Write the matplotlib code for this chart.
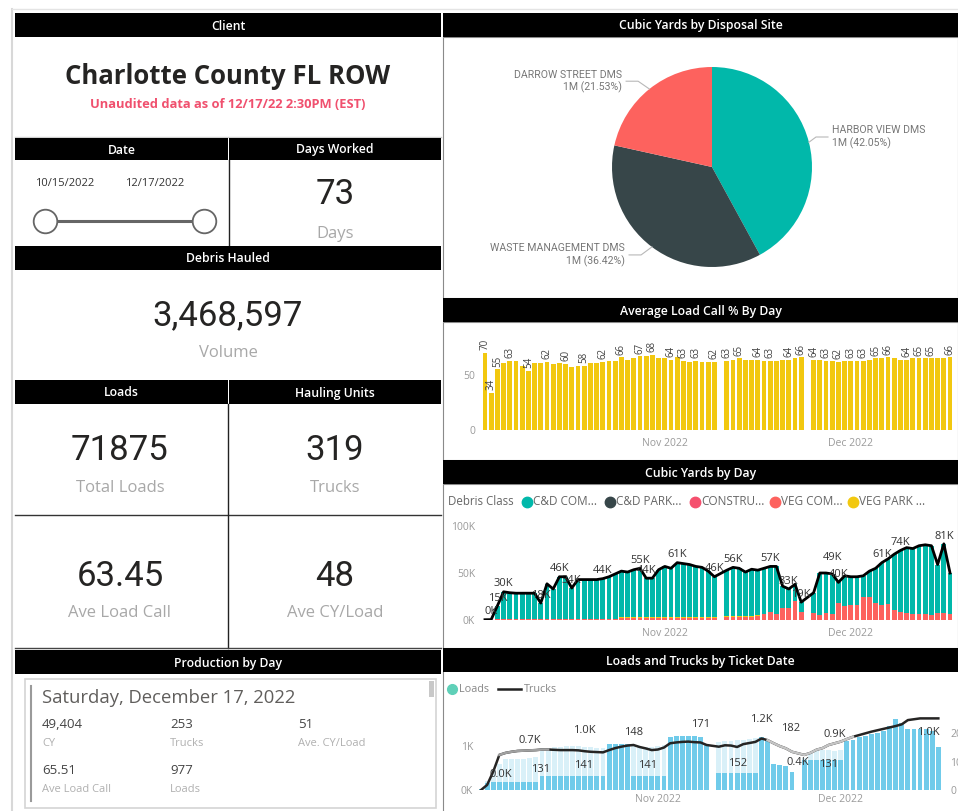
import matplotlib.pyplot as plt
import matplotlib.dates as mdates
from matplotlib.patches import Rectangle
from matplotlib.lines import Line2D
import numpy as np
import pandas as pd

plt.rcParams['font.family'] = ['Open Sans', 'DejaVu Sans']

W, H = 958, 811

# ---------------- data ----------------
client = 'Charlotte County FL ROW'
subtitle = 'Unaudited data as of 12/17/22 2:30PM (EST)'
date_from, date_to = '10/15/2022', '12/17/2022'
days_worked = '73'
debris_volume = '3,468,597'
total_loads = '71875'
trucks_total = '319'
ave_load_call = '63.45'
ave_cy_load = '48'

prod_date = 'Saturday, December 17, 2022'
prod_values = ['49,404', '253', '51', '65.51', '977']
prod_names = ['CY', 'Trucks', 'Ave. CY/Load', 'Ave Load Call', 'Loads']

sites = ['HARBOR VIEW DMS', 'WASTE MANAGEMENT DMS', 'DARROW STREET DMS']
site_share = [42.05, 36.42, 21.53]
site_colors = ['#01B8AA', '#374649', '#FD625E']

all_days = pd.date_range('2022-10-03', '2022-12-17')
days = all_days.drop(pd.to_datetime(['2022-11-10', '2022-11-24']))

avg_call = [70, 34, 55, 61, 63, 63, 58, 54, 61, 61, 62, 60, 61, 60, 57, 58, 58, 61, 61, 62,
            63, 63, 66, 64, 65, 67, 67, 68, 65, 65, 64, 66, 63, 62, 63, 62, 62, 62,
            63, 64, 65, 64, 64, 64, 63, 63, 63, 64, 64, 65, 66,
            64, 64, 63, 63, 62, 63, 63, 63, 63, 64, 65, 65, 66, 65, 64, 64, 65, 65, 65, 65, 65, 65, 66]
avg_lab = [0, 1, 2, 4, 7, 10, 13, 16, 19, 22, 25, 27, 30, 32, 34, 37,
           38, 40, 43, 45, 48, 50, 51, 53, 55, 57, 59, 61, 63, 66, 68, 70, 73]

# cubic yards by day (K)
cy_total = [0.3, 0.4, 15, 30, 29, 28.5, 28.5, 28.5, 28.5, 18, 38.5, 33, 46, 46, 34, 43, 43, 43, 43, 44,
            46, 49, 52, 51, 53.5, 55, 44.5, 44.5, 53.5, 57, 55, 61, 60, 59, 57, 56, 52, 46,
            53, 56, 55, 51, 54, 53, 55, 57, 57, 36, 33, 38, 19,
            29, 50, 50, 49, 40, 47, 46, 46, 47, 52, 55, 61, 65, 70, 74, 77, 76, 79, 80, 79, 59, 81, 50]
cd_com = [0.3, 0.4, 14, 29, 28, 27.5, 27.5, 27.5, 27.5, 17, 37.5, 32, 45, 45, 33, 42, 42, 42, 42, 43,
          45, 48, 48.5, 47.5, 50, 51.5, 41, 41, 50, 53.5, 51.5, 57.5, 56.5, 55.5, 53.5, 52.5, 48.5, 42.5,
          49, 52, 51, 47, 50, 48, 49, 48, 51, 23, 20, 18, 10,
          22, 45, 43, 43, 22, 32, 30, 30, 23, 28, 37, 45, 48, 59, 65, 70, 70, 73, 74, 74, 52, 74, 44]
veg_com = [0, 0, 1, 1, 1, 1, 1, 1, 1, 1, 1, 1, 1, 1, 1, 1, 1, 1, 1, 1,
           1, 1, 2, 2, 2, 2, 2, 2, 2, 2, 2, 2, 2, 2, 2, 2, 2, 2,
           3, 3, 3, 3, 3, 4, 6, 9, 6, 13, 13, 20, 9,
           7, 5, 7, 6, 18, 15, 16, 16, 24, 24, 18, 16, 17, 11, 9, 7, 6, 6, 6, 5, 7, 7, 6]
veg_park = [0, 0, 0, 0, 0, 0, 0, 0, 0, 0, 0, 0, 0, 0, 0, 0, 0, 0, 0, 0,
            0, 0, 1.5, 1.5, 1.5, 1.5, 1.5, 1.5, 1.5, 1.5, 1.5, 1.5, 1.5, 1.5, 1.5, 1.5, 1.5, 1.5,
            1, 1, 1, 1, 1, 1, 0, 0, 0, 0, 0, 0, 0,
            0, 0, 0, 0, 0, 0, 0, 0, 0, 0, 0, 0, 0, 0, 0, 0, 0, 0, 0, 0, 0, 0, 0]
cy_lab = [1, 2, 3, 9, 12, 14, 19, 25, 26, 31, 37, 39, 45, 48, 50, 54, 55, 62, 65, 72]
cy_lab_dy = [2.5, 2.5, 3, 2.5, 2.5, 2.5, 2.5, 2.5, 2.5, 2.5, 2.5, 2.5, 2.5, 2.5, 2.5, 12, 2.5, 2.5, 2.5, 2.5]
debris_classes = ['C&D COM...', 'C&D PARK...', 'CONSTRU...', 'VEG COM...', 'VEG PARK ...']
class_colors = ['#01B8AA', '#374649', '#F5506E', '#FD625E', '#F2C80F']

# loads (K) and trucks by ticket date
loads_all = [0.02, 0.2, 0.45, 0.6, 0.7, 0.7, 0.7, 0.7, 0.72, 0.75, 0.95, 0.95, 0.97, 0.98, 1.0, 1.0, 1.0,
             0.98, 0.97, 0.96, 0.95, 1.04, 1.05, 1.04, 1.04, 1.0, 0.98, 0.97, 0.98, 1.0, 1.02,
             1.2, 1.23, 1.24, 1.23, 1.22, 1.2, 1.04,
             1.1, 1.12, 1.12, 1.14, 1.15, 1.16, 1.18, 1.2, 1.15, 0.6, 0.58, 0.55, 0.42,
             0.72, 0.85, 0.9, 0.9, 0.9, 0.88, 0.9, 1.12, 1.15, 1.2, 1.23, 1.27, 1.3, 1.35, 1.45,
             1.62, 1.52, 1.4, 1.38, 1.38, 1.38, 1.35, 0.98]
loads_sel = [0.02, 0.15, 0.19, 0.19, 0.19, 0.19, 0.19, 0.19, 0.19, 0.19, 0.31, 0.31, 0.31, 0.31, 0.31,
             0.31, 0.31, 0.31, 0.31, 0.31, 0.31, 1.04, 1.05, 1.04, 1.04, 0.31, 0.31, 0.31, 0.31, 0.31, 0.31,
             1.2, 1.23, 1.24, 1.23, 1.22, 1.2, 1.04,
             0.38, 0.38, 0.38, 0.38, 0.38, 0.38, 0.38, 1.2, 1.15, 0.6, 0.58, 0.55, 0.42,
             0.69, 0.69, 0.69, 0.69, 0.69, 0.69, 0.69, 1.12, 1.15, 1.2, 1.23, 1.27, 1.3, 1.35, 1.45,
             1.62, 1.52, 1.4, 1.38, 1.38, 1.38, 1.35, 0.98]
trucks = [0, 18, 65, 124, 131, 135, 138, 139, 140, 141, 143, 143, 142, 141, 141, 141, 140, 137, 135, 134,
          133, 141, 148, 153, 157, 159, 152, 147, 141, 143, 150, 165, 168, 170, 171, 169, 168, 159,
          153, 158, 157, 152, 162, 166, 170, 182, 176, 165, 155, 147, 135,
          124, 131, 142, 148, 159, 165, 171, 180, 188, 194, 200, 206, 211, 216, 221, 226, 232, 247,
          250, 253, 253, 253, 253]
truck_lab = [4, 13, 22, 28, 34, 41, 45, 52]
truck_lab_off = [(25, -12), (17, -11), (13, 11), (-3, -11), (9, 12), (0, -12), (21, 7), (13, -8)]
load_lab = [0, 8, 16, 45, 50, 54, 73]
load_lab_off = [(14, 11), (0, 7), (4, 14), (0, 14), (4, -8), (9, 10), (-7, -10)]

months = pd.to_datetime(['2022-11-01', '2022-12-01'])
month_names = ['Nov 2022', 'Dec 2022']


# ---------------- helpers ----------------
def box(x0, y0, x1, y1):
    return [x0 / W, 1 - y1 / H, (x1 - x0) / W, (y1 - y0) / H]


def fx(x):
    return x / W


def fy(y):
    return 1 - y / H


fig = plt.figure(figsize=(W / 100, H / 100), dpi=100)
fig.patch.set_facecolor('white')


def rect(x0, y0, x1, y1, fc='none', ec='none', lw=1.0, z=1):
    fig.add_artist(Rectangle((fx(x0), fy(y1)), (x1 - x0) / W, (y1 - y0) / H,
                             transform=fig.transFigure, fc=fc, ec=ec, lw=lw, zorder=z))


def line(xs, ys, color='#333', lw=1.0, z=2):
    fig.add_artist(Line2D([fx(v) for v in xs], [fy(v) for v in ys], color=color, lw=lw, zorder=z))


def header(x0, x1, y0, y1, text):
    rect(x0, y0, x1, y1, fc='black', z=3)
    fig.text(fx((x0 + x1) / 2), fy((y0 + y1) / 2 + 1), text, color='white', ha='center',
             va='center', fontsize=8.8, weight='semibold', zorder=4)


def kpi(x, y, value, label, ly):
    fig.text(fx(x), fy(y), value, ha='center', va='center', fontsize=25,
             family='Roboto', color='#252423')
    fig.text(fx(x), fy(ly), label, ha='center', va='center', fontsize=12, color='#a8a8a8')


# outer frame
line([12, 12], [9, 811], color='#d8d8d8', lw=1.5)
line([12, 958], [9, 9], color='#e4e4e4', lw=1.0)

# ---------------- left column ----------------
header(15, 441, 13, 37, 'Client')
fig.text(fx(228), fy(77), client, ha='center', va='center', fontsize=18.5, weight='bold', color='#252423')
fig.text(fx(228), fy(104), subtitle, ha='center', va='center', fontsize=9.3, weight='bold', color='#F0506E')
line([15, 441], [137, 137], color='#cfcfcf', lw=1)

header(15, 228, 138, 160, 'Date')
header(229, 441, 138, 160, 'Days Worked')
fig.text(fx(35), fy(184), date_from, ha='left', va='center', fontsize=8, color='#333')
fig.text(fx(125), fy(184), date_to, ha='left', va='center', fontsize=8, color='#333')
fig.add_artist(Line2D([fx(45), fx(204)], [fy(221), fy(221)], color='#666', lw=2.2, zorder=3))
fig.add_artist(Line2D([fx(45), fx(204)], [fy(221), fy(221)], ls='none', marker='o', ms=17,
                      mfc='white', mec='#666', mew=1.3, zorder=4))
line([228.5, 228.5], [160, 246], color='#222', lw=1)
kpi(335, 194, days_worked, 'Days', 234)

header(15, 441, 246, 270, 'Debris Hauled')
kpi(228, 316, debris_volume, 'Volume', 353)

header(15, 228, 380, 404, 'Loads')
header(229, 441, 380, 404, 'Hauling Units')
kpi(120, 450, total_loads, 'Total Loads', 488)
kpi(335, 450, trucks_total, 'Trucks', 488)
line([15, 441], [515, 515], color='#333', lw=1)
kpi(120, 576, ave_load_call, 'Ave Load Call', 613)
kpi(335, 576, ave_cy_load, 'Ave CY/Load', 613)
line([227.5, 227.5], [404, 648], color='#222', lw=1)
line([15, 441], [648, 648], color='#444', lw=1)

header(15, 441, 650, 674, 'Production by Day')
rect(25, 679, 436, 808, fc='white', ec='#d4d4d4', lw=1.2)
line([31, 31], [686, 801], color='#9a9a9a', lw=1.5, z=3)
rect(429, 681, 434, 697, fc='#c8c8c8', z=3)
fig.text(fx(42), fy(698), prod_date, ha='left', va='center', fontsize=13.3, color='#605e5c')
cols = [42, 170, 298, 42, 170]
rows = [725, 725, 725, 770, 770]
for v, n, cx, ry in zip(prod_values, prod_names, cols, rows):
    fig.text(fx(cx), fy(ry), v, ha='left', va='center', fontsize=9.5, color='#444')
    fig.text(fx(cx), fy(ry + 19), n, ha='left', va='center', fontsize=8, color='#b0b0b0')

# ---------------- pie ----------------
header(443, 958, 13, 37, 'Cubic Yards by Disposal Site')
rect(443, 37, 958, 298, ec='#8a8a8a', lw=0.8)
ax = fig.add_axes(box(612, 67, 812, 267))
ax.pie(site_share, colors=site_colors, startangle=90, counterclock=False, radius=1,
       wedgeprops=dict(lw=0))
ax.set_xlim(-1, 1)
ax.set_ylim(-1, 1)
ax.set_aspect('equal')
ax.axis('off')
start = 90.0
for name, share in zip(sites, site_share):
    mid = np.deg2rad(start - share * 3.6 / 2)
    start -= share * 3.6
    px, py = np.cos(mid), np.sin(mid)
    side = 1 if px > 0 else -1
    ex, ey = 1.18 * px, 1.1 * py
    if side > 0:
        ex, ey = 1.04, 0.3
    ax.plot([px * 1.0, ex, ex + side * 0.12], [py * 1.0, ey, ey], color='#b8b8b8', lw=0.8, clip_on=False)
    ax.text(ex + side * 0.16, ey, f'{name}\n1M ({share:.2f}%)', ha='left' if side > 0 else 'right',
            va='center', fontsize=7.6, color='#777', family='Roboto', linespacing=1.2)

# ---------------- average load call ----------------
x = mdates.date2num(days)
xa = mdates.date2num(all_days)
xm = mdates.date2num(months)


def style_axis(ax):
    for s in ax.spines.values():
        s.set_visible(False)
    ax.tick_params(length=0, colors='#9a9a9a', labelsize=7.5)
    ax.set_xticks(xm, month_names)
    ax.set_facecolor('none')


header(443, 958, 298, 322, 'Average Load Call % By Day')
rect(443, 322, 958, 460, ec='#8a8a8a', lw=0.8)
ax = fig.add_axes(box(480, 328, 955, 430))
ax.bar(x, avg_call, width=0.78, color='#F2C80F')
ax.set_xlim(xa[0] - 0.8, xa[-1] + 0.8)
ax.set_ylim(0, 92.7)
ax.set_yticks([0, 50])
style_axis(ax)
ax.tick_params(axis='x', pad=6)
for i in avg_lab:
    ax.text(x[i], avg_call[i] + 2.5, str(avg_call[i]), rotation=90, ha='center', va='bottom',
            fontsize=7, color='#444', clip_on=False)

# ---------------- cubic yards by day ----------------
header(443, 958, 460, 484, 'Cubic Yards by Day')
rect(443, 484, 958, 648, ec='#8a8a8a', lw=0.8)
fig.text(fx(448), fy(502), 'Debris Class', ha='left', va='center', fontsize=8.3, color='#666')
leg_x = [527, 610, 695, 775, 853]
for name, c, lx in zip(debris_classes, class_colors, leg_x):
    fig.add_artist(Line2D([fx(lx)], [fy(502)], ls='none', marker='o', ms=7.5, mfc=c, mec=c))
    fig.text(fx(lx + 6), fy(502), name, ha='left', va='center', fontsize=8.5, color='#666')
ax = fig.add_axes(box(480, 515, 955, 620))
r = np.array(veg_com)
yl = np.array(veg_park)
ax.bar(x, veg_com, width=0.78, color='#FD625E')
ax.bar(x, veg_park, width=0.78, bottom=r, color='#F2C80F')
ax.bar(x, cd_com, width=0.78, bottom=r + yl, color='#01B8AA')
ax.plot(x, cy_total, color='black', lw=2)
ax.set_xlim(xa[0] - 0.8, xa[-1] + 0.8)
ax.set_ylim(0, 111.7)
ax.set_yticks([0, 50, 100], ['0K', '50K', '100K'])
style_axis(ax)
ax.tick_params(axis='x', pad=6)
for i, dy in zip(cy_lab, cy_lab_dy):
    ax.text(x[i], cy_total[i] + dy, f'{cy_total[i]:.0f}K', ha='center', va='bottom',
            fontsize=8, color='#333', clip_on=False)

# ---------------- loads and trucks ----------------
header(443, 958, 648, 672, 'Loads and Trucks by Ticket Date')
line([443, 443], [672, 811], color='#8a8a8a', lw=0.8)
fig.add_artist(Line2D([fx(452)], [fy(689)], ls='none', marker='o', ms=7, mfc='#5FD0B8', mec='#5FD0B8'))
fig.text(fx(459), fy(689), 'Loads', ha='left', va='center', fontsize=7.8, color='#888')
line([498, 521], [689, 689], color='#222', lw=1.8)
fig.text(fx(524), fy(689), 'Trucks', ha='left', va='center', fontsize=7.8, color='#888')

ax = fig.add_axes(box(478, 700, 942, 790))
ax.bar(x, loads_all, width=0.8, color='#d9f0f8')
ax.bar(x, loads_sel, width=0.8, color='#70CBEA')
ax.set_xlim(xa[0] - 0.5, xa[-1] + 0.6)
ax.set_ylim(0, 2.05)
ax.set_yticks([0, 1], ['0K', '1K'])
style_axis(ax)
ax.tick_params(axis='x', pad=3)
ax2 = ax.twinx()
ax2.plot(x, trucks, color='#252423', lw=1.8)
ax2.plot(x[3:12], trucks[3:12], color='#a0a0a0', lw=1.8)
ax2.plot(x[46:60], trucks[46:60], color='#c4c4c4', lw=1.8)
ax2.set_ylim(0, 318)
ax2.set_yticks([0, 100, 200])
for s in ax2.spines.values():
    s.set_visible(False)
ax2.tick_params(length=0, colors='#9a9a9a', labelsize=7.5, pad=6)
for i, off in zip(truck_lab, truck_lab_off):
    ax2.annotate(str(trucks[i]), (x[i], trucks[i]), xytext=off, textcoords='offset points',
                 ha='center', va='center', fontsize=8, color='#333')
for i, off in zip(load_lab, load_lab_off):
    ax2.annotate(f'{loads_all[i]:.1f}K', (x[i], trucks[i]), xytext=off, textcoords='offset points',
                 ha='center', va='center', fontsize=8, color='#333')

fig.savefig('out.png', dpi=100)
